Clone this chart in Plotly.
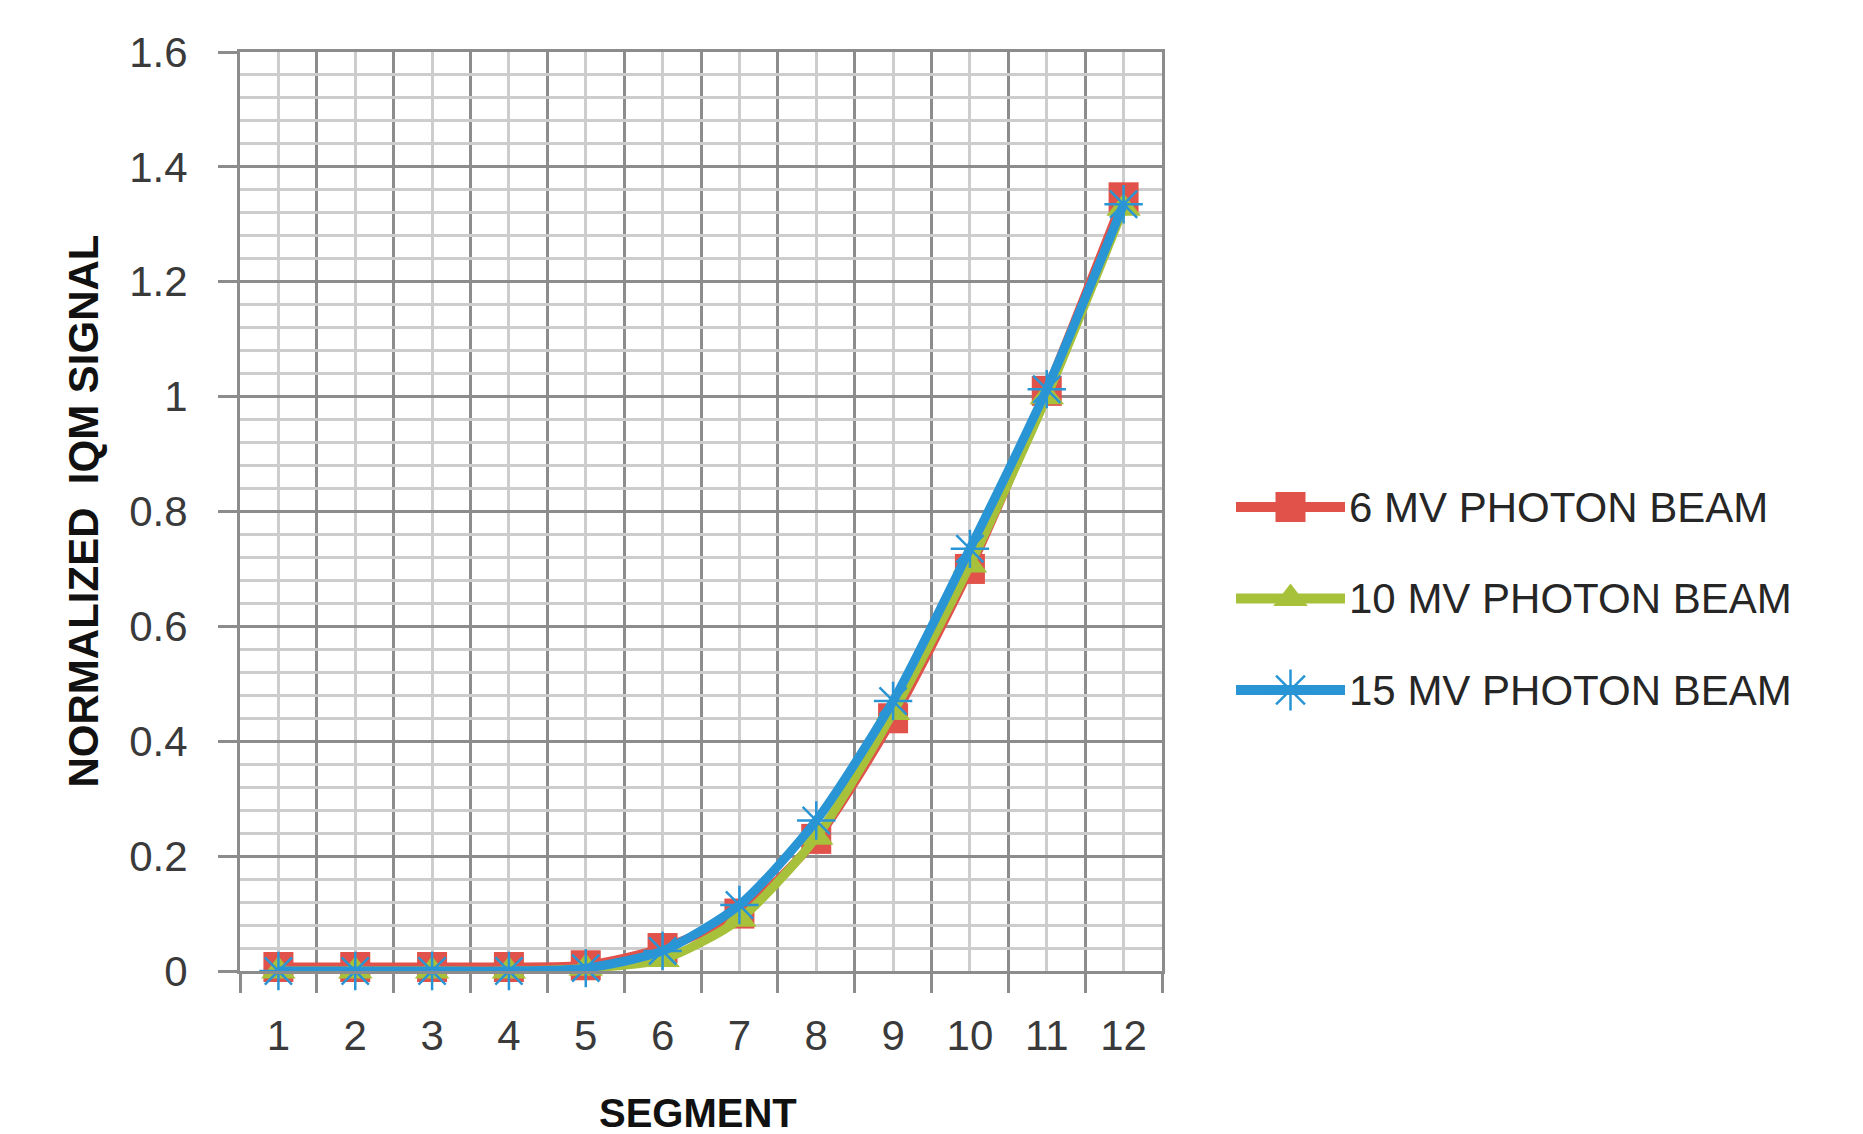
import plotly.graph_objects as go

W, H = 1863, 1134

segments = list(range(1, 13))
segment_labels = [str(s) for s in segments]

mv6 = [0.007, 0.007, 0.007, 0.007, 0.01, 0.04, 0.10, 0.23, 0.44, 0.70, 1.01, 1.347]
mv10 = [0.0, 0.0, 0.0, 0.0, 0.005, 0.02, 0.09, 0.233, 0.45, 0.707, 1.0, 1.328]
mv15 = [0.0, 0.0, 0.0, 0.0, 0.005, 0.035, 0.115, 0.262, 0.47, 0.735, 1.013, 1.335]

series_names = ["6 MV PHOTON BEAM", "10 MV PHOTON BEAM", "15 MV PHOTON BEAM"]
series_values = [mv6, mv10, mv15]
colors = ["#E0524A", "#A7C13B", "#2A95D5"]
symbols = ["square", "triangle-up", "asterisk-open"]

y_ticks = [0, 0.2, 0.4, 0.6, 0.8, 1, 1.2, 1.4, 1.6]
boundaries = [s - 0.5 for s in segments] + [12.5]

# pixel layout helpers
def px_x(p):
    return p / W

def px_y(p):
    return 1 - p / H

PL, PR, PT, PB = 232, 1154, 44, 963

DARK = "#8c8c8c"
LIGHT = "#cdcdcd"
FONT = "Liberation Sans"

fig = go.Figure()

for name, vals, col, sym in zip(series_names, series_values, colors, symbols):
    marker = dict(symbol=sym, size=30, color=col)
    if sym == "asterisk-open":
        marker = dict(symbol=sym, size=32, color=col, line=dict(color=col, width=2.5))
    fig.add_trace(go.Scatter(
        x=segments, y=vals, name=name, mode="lines+markers",
        line=dict(color=col, width=9, shape="spline", smoothing=0.7),
        marker=marker, showlegend=False, xaxis="x", yaxis="y",
        cliponaxis=False,
    ))

# custom legend in its own small subplot
rows = [0, 1, 2]
for r, name, col, sym in zip(rows, series_names, colors, symbols):
    fig.add_trace(go.Scatter(
        x=[0, 1], y=[r, r], mode="lines", line=dict(color=col, width=10),
        showlegend=False, xaxis="x2", yaxis="y2", hoverinfo="skip",
    ))
    marker = dict(symbol=sym, size=30, color=col)
    if sym == "asterisk-open":
        marker = dict(symbol=sym, size=34, color=col, line=dict(color=col, width=2.5))
    fig.add_trace(go.Scatter(
        x=[0.5], y=[r], mode="markers", marker=marker,
        showlegend=False, xaxis="x2", yaxis="y2", hoverinfo="skip",
    ))

annotations = []
for r, name in zip(rows, series_names):
    annotations.append(dict(
        x=1, y=r, xref="x2", yref="y2", text=name, showarrow=False,
        xanchor="left", yanchor="middle", xshift=2,
        font=dict(family=FONT, size=42, color="#262626"),
    ))

annotations.append(dict(
    x=px_x(75), y=px_y((PT + PB) / 2), xref="paper", yref="paper",
    text="<b>NORMALIZED  IQM SIGNAL</b>", textangle=-90, showarrow=False,
    xanchor="center", yanchor="middle",
    font=dict(family=FONT, size=42, color="#111111"),
))
annotations.append(dict(
    x=px_x(690), y=px_y(1105), xref="paper", yref="paper",
    text="<b>SEGMENT</b>", showarrow=False,
    xanchor="center", yanchor="middle",
    font=dict(family=FONT, size=40, color="#111111"),
))

fig.update_layout(
    width=W, height=H, autosize=False,
    margin=dict(l=0, r=0, t=0, b=0),
    paper_bgcolor="white", plot_bgcolor="white",
    showlegend=False,
    xaxis=dict(
        domain=[px_x(PL), px_x(PR)], range=[0.5, 12.5],
        tickmode="array", tickvals=segments, ticktext=segment_labels,
        ticks="", showgrid=True, gridcolor=LIGHT, gridwidth=3,
        minor=dict(tickvals=boundaries, showgrid=True, gridcolor=DARK, gridwidth=2.5,
                   ticks="outside", ticklen=19, tickwidth=2.5, tickcolor=DARK),
        showline=True, linecolor=DARK, linewidth=3, mirror=True,
        zeroline=False, automargin=False, fixedrange=True,
        tickfont=dict(family=FONT, size=42, color="#3a3a3a"),
        ticklabelstandoff=26,
        anchor="y",
    ),
    yaxis=dict(
        domain=[px_y(PB), px_y(PT)], range=[0, 1.6],
        tickmode="array", tickvals=y_ticks,
        ticks="outside", ticklen=19, tickwidth=2.5, tickcolor=DARK,
        showgrid=True, gridcolor=DARK, gridwidth=2.5,
        minor=dict(dtick=0.04, tick0=0, showgrid=True, gridcolor=LIGHT, gridwidth=3, ticks=""),
        showline=True, linecolor=DARK, linewidth=3, mirror=True,
        zeroline=False, automargin=False, fixedrange=True,
        tickfont=dict(family=FONT, size=42, color="#3a3a3a"),
        ticklabelstandoff=22,
        anchor="x",
    ),
    xaxis2=dict(
        domain=[px_x(1228), px_x(1337)], range=[0, 1],
        visible=False, fixedrange=True, anchor="y2",
    ),
    yaxis2=dict(
        domain=[px_y(727.75), px_y(453.25)], range=[2.5, -0.5],
        visible=False, fixedrange=True, anchor="x2",
    ),
    annotations=annotations,
    shapes=[dict(type="line", xref="paper", yref="paper",
                 x0=px_x(1856), x1=px_x(1856), y0=0, y1=1,
                 line=dict(color="#a0a0a0", width=4))],
)

fig.write_html("out.html")
